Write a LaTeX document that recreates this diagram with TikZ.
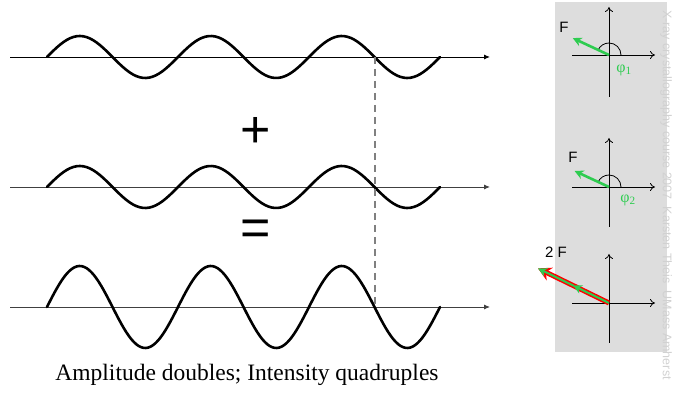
\documentclass[tikz,border=0pt]{standalone}
\usepackage{fontspec}
\setmainfont{Liberation Serif}
\newfontfamily\arialfont{Liberation Sans}
\usepackage{xcolor}
\usetikzlibrary{arrows.meta,positioning,calc}

\definecolor{phasorgreen}{RGB}{46,204,80}
\definecolor{panelgray}{RGB}{221,221,221}

\tikzset{
  wave/.style={line width=2.6pt,line cap=round,line join=round},
  waveaxis/.style={line width=0.9pt,-{Latex[length=6pt,width=5pt]}},
  phasoraxis/.style={line width=0.8pt,-{To[length=5pt,width=8pt]}},
  fvec/.style={phasorgreen,line width=2.6pt,-{Stealth[length=9pt,width=9pt]}},
  resvec/.style={red,line width=5pt,-{Stealth[length=13pt,width=14pt]}},
  flabel/.style={font=\arialfont\fontsize{15}{15}\selectfont,inner sep=0pt},
  philabel/.style={text=phasorgreen,font=\fontsize{16}{16}\selectfont,inner sep=0pt}
}

\begin{document}
\begin{tikzpicture}[x=1pt,y=1pt]
  \useasboundingbox (0,0) rectangle (673,396);
  % grey panel behind the phasor diagrams
  \fill[panelgray] (555,44) rectangle (667,394);
  \node[rotate=-90,anchor=west,text=black!18,font=\arialfont\fontsize{12.5}{12.5}\selectfont,inner sep=0pt]
    (credit) at (666,386) {X-ray crystallography course 2007\ \ Karsten Theis\ \ UMass Amherst};

  % wave 1
  \coordinate (ax1s) at (10,339);
  \coordinate (ax1e) at (490,339);
  \draw[waveaxis] (ax1s) -- (ax1e);
  \draw[wave] plot[domain=47:440,samples=120] (\x,{339+21*sin((\x-47)/131*360)});
  \node[font=\arialfont\fontsize{52}{52}\selectfont,inner sep=0pt] (plus) at (256,264) {+};

  % wave 2
  \coordinate (ax2s) at (10,209);
  \coordinate (ax2e) at (490,209);
  \draw[waveaxis,black!75] (ax2s) -- (ax2e);
  \draw[wave] plot[domain=47:440,samples=120] (\x,{209+21*sin((\x-47)/131*360)});
  \node[font=\arialfont\fontsize{52}{52}\selectfont,inner sep=0pt] (equals) at (256,163) {=};

  % wave 3 (sum)
  \coordinate (ax3s) at (10,89);
  \coordinate (ax3e) at (490,89);
  \draw[waveaxis,black!75] (ax3s) -- (ax3e);
  \draw[wave] plot[domain=47:440,samples=160] (\x,{89+41*sin((\x-47)/131*360)});

  % phase marker through the zero crossings
  \coordinate (cross1) at (375,339);
  \coordinate (cross3) at (375,89);
  \draw[gray,line width=1.6pt,dash pattern=on 7pt off 5pt] (cross1) -- (cross3);

  \node (caption) at (247,21) {\fontsize{23.5}{24}\selectfont Amplitude doubles; Intensity quadruples};

  % phasor 1
  \coordinate (o1) at (609,341);
  \draw[phasoraxis] ($(o1)+(-37,0)$) -- ($(o1)+(46,0)$);
  \draw[phasoraxis] ($(o1)+(0,-42)$) -- ($(o1)+(0,48)$);
  \draw[line width=0.8pt] ($(o1)+(12,0)$) arc[start angle=0,end angle=155,radius=12pt];
  \coordinate (f1) at ($(o1)+(155:40)$);
  \draw[fvec] (o1) -- (f1);
  \node[flabel] (F1) at (564,369) {F};
  \node[philabel] (phi1) at (624,326) {φ\textsubscript{1}};

  % phasor 2
  \coordinate (o2) at (609,209);
  \draw[phasoraxis] ($(o2)+(-37,0)$) -- ($(o2)+(46,0)$);
  \draw[phasoraxis] ($(o2)+(0,-40)$) -- ($(o2)+(0,49)$);
  \draw[line width=0.8pt] ($(o2)+(12,0)$) arc[start angle=0,end angle=155,radius=12pt];
  \coordinate (f2) at ($(o2)+(155:38)$);
  \draw[fvec] (o2) -- (f2);
  \node[flabel] (F2) at (573,239) {F};
  \node[philabel] (phi2) at (628,196) {φ\textsubscript{2}};

  % phasor 3: F + F = 2F
  \coordinate (o3) at (609,93);
  \draw[phasoraxis] ($(o3)+(-37,0)$) -- ($(o3)+(46,0)$);
  \draw[phasoraxis] ($(o3)+(0,-40)$) -- ($(o3)+(0,49)$);
  \coordinate (m3) at ($(o3)+(154:39)$);
  \coordinate (e3) at ($(o3)+(154:79)$);
  \draw[resvec] (o3) -- (e3);
  \draw[fvec,line width=2pt,shorten >=-1pt] (o3) -- (m3);
  \draw[fvec,line width=2pt] (m3) -- (e3);
  \node[flabel] (F3) at (556,144) {2 F};
\end{tikzpicture}
\end{document}
